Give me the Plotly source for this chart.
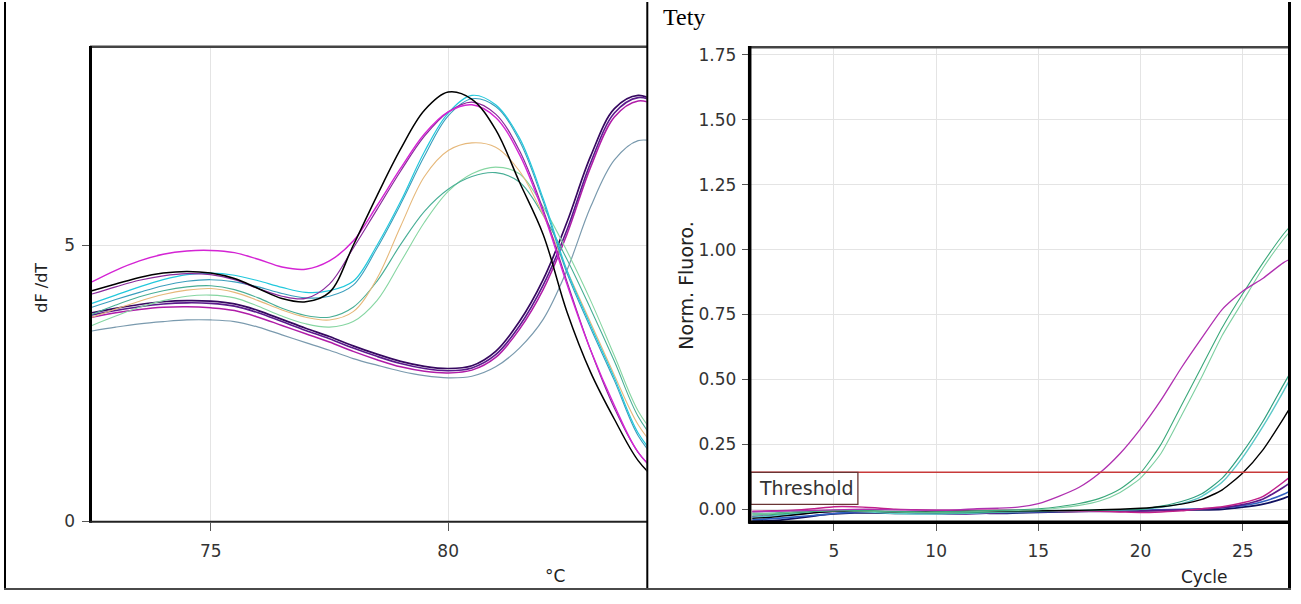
import plotly.graph_objects as go

# ---------------- data: melt curve (left) ----------------
temps = [72.5, 73, 73.5, 74, 74.5, 75, 75.5, 76, 76.5, 77, 77.5, 78, 78.5,
         79, 79.5, 80, 80.5, 81, 81.5, 82, 82.5, 83, 83.5, 84, 84.5]

melt_black = [4.18, 4.30, 4.42, 4.50, 4.53, 4.50, 4.40, 4.22, 4.04, 3.98, 4.15, 5.00, 5.90,
              6.75, 7.45, 7.78, 7.65, 7.10, 6.15, 5.20, 3.80, 2.70, 1.85, 1.10, 0.65]
melt_cyan = [3.95, 4.10, 4.25, 4.38, 4.47, 4.50, 4.46, 4.36, 4.24, 4.15, 4.18, 4.35, 5.00,
             5.80, 6.70, 7.40, 7.72, 7.55, 6.95, 5.85, 4.55, 3.55, 2.60, 1.60, 1.05]
melt_steel = [3.88, 4.02, 4.15, 4.27, 4.35, 4.38, 4.34, 4.25, 4.13, 4.05, 4.08, 4.28, 4.95,
              5.75, 6.62, 7.35, 7.66, 7.52, 6.90, 5.80, 4.50, 3.50, 2.55, 1.55, 1.00]
melt_magenta = [4.34, 4.55, 4.72, 4.84, 4.90, 4.91, 4.87, 4.75, 4.61, 4.57, 4.72, 5.08, 5.72,
                6.40, 7.02, 7.42, 7.55, 7.32, 6.65, 5.60, 4.30, 3.10, 2.10, 1.25, 0.80]
melt_purple_a = [4.12, 4.25, 4.37, 4.45, 4.49, 4.47, 4.38, 4.22, 4.08, 4.04, 4.30, 4.95, 5.65,
                 6.35, 6.98, 7.42, 7.60, 7.38, 6.72, 5.65, 4.35, 3.10, 2.05, 1.25, 0.80]
melt_orange = [3.70, 3.85, 3.99, 4.11, 4.19, 4.22, 4.15, 4.00, 3.83, 3.70, 3.65, 3.80, 4.40,
               5.35, 6.25, 6.72, 6.86, 6.78, 6.35, 5.55, 4.55, 3.60, 2.65, 1.75, 1.20]
melt_lightgreen = [3.55, 3.72, 3.88, 4.00, 4.08, 4.10, 4.05, 3.90, 3.72, 3.58, 3.52, 3.62, 4.00,
                   4.70, 5.42, 5.98, 6.30, 6.42, 6.30, 5.70, 4.90, 4.00, 3.00, 2.00, 1.40]
melt_tealgreen = [3.75, 3.92, 4.07, 4.18, 4.25, 4.27, 4.20, 4.05, 3.86, 3.73, 3.70, 3.88, 4.35,
                  5.02, 5.62, 6.02, 6.25, 6.32, 6.15, 5.55, 4.75, 3.85, 2.90, 1.90, 1.30]
melt_darkpurple = [3.78, 3.86, 3.93, 3.98, 4.00, 3.99, 3.94, 3.82, 3.66, 3.50, 3.35, 3.18, 3.03,
                   2.90, 2.81, 2.77, 2.82, 3.08, 3.62, 4.38, 5.42, 6.62, 7.48, 7.72, 7.55]
melt_purple_b = [3.74, 3.82, 3.89, 3.94, 3.96, 3.95, 3.90, 3.78, 3.62, 3.46, 3.31, 3.14, 2.99,
                 2.86, 2.77, 2.73, 2.78, 3.02, 3.54, 4.28, 5.28, 6.50, 7.40, 7.68, 7.55]
melt_magenta_b = [3.70, 3.78, 3.84, 3.88, 3.89, 3.87, 3.82, 3.70, 3.55, 3.40, 3.25, 3.08, 2.93,
                  2.80, 2.72, 2.69, 2.74, 2.97, 3.48, 4.20, 5.20, 6.42, 7.33, 7.62, 7.50]
melt_grayblue = [3.45, 3.52, 3.58, 3.62, 3.65, 3.65, 3.62, 3.52, 3.38, 3.24, 3.10, 2.95, 2.83,
                 2.72, 2.64, 2.60, 2.63, 2.80, 3.14, 3.66, 4.55, 5.70, 6.55, 6.90, 6.85]

melt_ticks_x = [75, 80]
melt_ticks_y = [0, 5]

# ---------------- data: amplification (right) ----------------
cycles = list(range(1, 29))
amp_magenta = [-0.010, -0.008, -0.006, -0.004, -0.002, 0.000, 0.000, -0.002, -0.003, -0.003, -0.002, 0.002, 0.004, 0.008,
               0.022, 0.050, 0.085, 0.140, 0.215, 0.310, 0.420, 0.545, 0.660, 0.770, 0.840, 0.890, 0.950, 0.990]
amp_green1 = [-0.022, -0.020, -0.014, -0.008, -0.004, -0.004, -0.006, -0.008, -0.010, -0.010, -0.008, -0.006, -0.004, -0.002,
              0.002, 0.010, 0.022, 0.042, 0.078, 0.140, 0.250, 0.400, 0.550, 0.700, 0.830, 0.950, 1.060, 1.150]
amp_green2 = [-0.018, -0.016, -0.012, -0.008, -0.006, -0.006, -0.008, -0.010, -0.012, -0.012, -0.010, -0.008, -0.006, -0.004,
              -0.002, 0.005, 0.015, 0.032, 0.065, 0.120, 0.215, 0.360, 0.510, 0.670, 0.800, 0.930, 1.040, 1.130]
amp_green3 = [-0.015, -0.015, -0.010, -0.006, -0.004, -0.006, -0.008, -0.010, -0.012, -0.014, -0.014, -0.012, -0.010, -0.008,
              -0.006, -0.004, -0.004, -0.003, -0.002, 0.000, 0.012, 0.030, 0.060, 0.120, 0.220, 0.340, 0.480, 0.620]
amp_cyan = [-0.030, -0.026, -0.018, -0.010, -0.006, -0.008, -0.012, -0.016, -0.018, -0.018, -0.016, -0.014, -0.012, -0.010,
            -0.008, -0.006, -0.005, -0.004, -0.002, 0.000, 0.008, 0.022, 0.050, 0.105, 0.200, 0.320, 0.455, 0.600]
amp_black = [-0.035, -0.030, -0.022, -0.014, -0.008, -0.006, -0.008, -0.010, -0.010, -0.010, -0.008, -0.008, -0.008, -0.006,
             -0.006, -0.005, -0.004, -0.002, 0.000, 0.004, 0.010, 0.020, 0.038, 0.075, 0.140, 0.230, 0.350, 0.480]
amp_magenta2 = [-0.008, -0.006, -0.004, 0.002, 0.010, 0.010, 0.006, 0.000, -0.002, -0.004, -0.004, -0.004, -0.004, -0.004,
                -0.006, -0.008, -0.008, -0.008, -0.010, -0.012, -0.010, -0.006, 0.002, 0.010, 0.025, 0.050, 0.105, 0.170]
amp_purple = [-0.028, -0.025, -0.020, -0.012, -0.008, -0.008, -0.010, -0.012, -0.014, -0.016, -0.018, -0.016, -0.014, -0.010,
              -0.008, -0.008, -0.008, -0.008, -0.008, -0.006, -0.004, -0.002, 0.000, 0.006, 0.018, 0.040, 0.085, 0.140]
amp_navy = [-0.046, -0.044, -0.036, -0.026, -0.018, -0.014, -0.014, -0.016, -0.016, -0.016, -0.014, -0.014, -0.016, -0.014,
            -0.012, -0.010, -0.008, -0.006, -0.006, -0.006, -0.004, -0.002, -0.002, 0.000, 0.008, 0.020, 0.042, 0.075]
amp_blue = [-0.040, -0.036, -0.030, -0.024, -0.016, -0.012, -0.010, -0.010, -0.012, -0.014, -0.016, -0.016, -0.014, -0.012,
            -0.010, -0.008, -0.006, -0.006, -0.004, -0.004, -0.002, 0.000, 0.002, 0.006, 0.014, 0.030, 0.058, 0.100]

threshold = 0.1425
amp_ticks_x = [5, 10, 15, 20, 25]
amp_ticks_y = [0.00, 0.25, 0.50, 0.75, 1.00, 1.25, 1.50, 1.75]

# ---------------- figure ----------------
W, H = 1301, 604


def px(x):
    return x / W


def py(y):
    return 1 - y / H


fig = go.Figure()

melt_series = [
    (melt_grayblue, '#7a9aae', 1.2),
    (melt_magenta_b, '#b01ca8', 1.5),
    (melt_purple_b, '#5a1a8c', 1.6),
    (melt_darkpurple, '#360860', 1.7),
    (melt_lightgreen, '#86d6a2', 1.1),
    (melt_tealgreen, '#48ae96', 1.1),
    (melt_orange, '#e6b87a', 1.1),
    (melt_steel, '#3a9ebc', 1.1),
    (melt_cyan, '#22c8dc', 1.2),
    (melt_purple_a, '#8a2a9c', 1.2),
    (melt_magenta, '#d424d4', 1.4),
    (melt_black, '#000000', 1.5),
]
for vals, col, w in melt_series:
    fig.add_trace(go.Scatter(x=temps, y=vals, mode='lines', xaxis='x', yaxis='y',
                             line=dict(color=col, width=w, shape='spline', smoothing=1.0),
                             showlegend=False, hoverinfo='skip'))

amp_series = [
    (amp_navy, '#101060', 1.8),
    (amp_blue, '#3060c0', 1.6),
    (amp_purple, '#5a1a8a', 1.6),
    (amp_magenta2, '#c0208a', 1.5),
    (amp_cyan, '#5cc8c8', 1.4),
    (amp_green3, '#2f9f7f', 1.2),
    (amp_black, '#000000', 1.4),
    (amp_green2, '#7ccfa0', 1.1),
    (amp_green1, '#3aa87a', 1.1),
    (amp_magenta, '#b030b0', 1.3),
]
for vals, col, w in amp_series:
    fig.add_trace(go.Scatter(x=cycles, y=vals, mode='lines', xaxis='x2', yaxis='y2',
                             line=dict(color=col, width=w, shape='spline', smoothing=0.6),
                             showlegend=False, hoverinfo='skip'))

tickfont = dict(family='DejaVu Sans', size=17, color='#333333')
grid = '#e4e4e4'

L_x0, L_x1, T_y, B_y = 91.5, 646.7, 45.7, 529.5
R_x0, R_x1 = 750.7, 1288.0

fig.update_layout(
    width=W, height=H, margin=dict(l=0, r=0, t=0, b=0),
    paper_bgcolor='white', plot_bgcolor='white',
    xaxis=dict(domain=[px(L_x0), px(L_x1)], range=[72.49, 84.18], anchor='y',
               tickvals=melt_ticks_x, ticktext=[str(v) for v in melt_ticks_x],
               ticks='outside', ticklen=8, tickcolor='#555', tickwidth=1,
               showgrid=True, gridcolor=grid, gridwidth=1, zeroline=False,
               showline=False, tickfont=tickfont, ticklabelstandoff=6),
    yaxis=dict(domain=[py(B_y), py(T_y)], range=[-0.01, 8.6], anchor='x',
               tickvals=melt_ticks_y, ticktext=[str(v) for v in melt_ticks_y],
               ticks='outside', ticklen=9, tickcolor='#555', tickwidth=1,
               showgrid=True, gridcolor=grid, gridwidth=1, zeroline=False,
               showline=False, tickfont=tickfont, ticklabelstandoff=3),
    xaxis2=dict(domain=[px(R_x0), px(R_x1)], range=[0.924, 27.217], anchor='y2',
                tickvals=amp_ticks_x, ticktext=[str(v) for v in amp_ticks_x],
                ticks='outside', ticklen=8, tickcolor='#555', tickwidth=1,
                showgrid=True, gridcolor=grid, gridwidth=1, zeroline=False,
                showline=False, tickfont=tickfont, ticklabelstandoff=6),
    yaxis2=dict(domain=[py(B_y), py(T_y)], range=[-0.0484, 1.7807], anchor='x2',
                tickvals=amp_ticks_y, ticktext=['%.2f' % v for v in amp_ticks_y],
                ticks='outside', ticklen=8, tickcolor='#555', tickwidth=1,
                showgrid=True, gridcolor=grid, gridwidth=1, zeroline=False,
                showline=False, tickfont=tickfont, ticklabelstandoff=2),
)


def pline(x0, y0, x1, y1, color, width):
    fig.add_shape(type='line', xref='paper', yref='paper',
                  x0=px(x0), y0=py(y0), x1=px(x1), y1=py(y1),
                  line=dict(color=color, width=width), layer='above')


# threshold line and label box
fig.add_shape(type='line', xref='x2 domain', yref='y2', x0=0, x1=1, y0=threshold, y1=threshold,
              line=dict(color='#c83a3a', width=1.5), layer='above')
fig.add_shape(type='rect', xref='x2', yref='y2', x0=0.924, x1=6.17, y0=0.019, y1=threshold,
              line=dict(color='#6a3434', width=1.3), fillcolor='rgba(0,0,0,0)', layer='above')

# plot frames
pline(L_x0 - 1.5, T_y, 647, T_y, '#444444', 2.5)
pline(L_x0 - 1, T_y - 1, L_x0 - 1, B_y + 1, '#000000', 3)
pline(L_x0 - 2, B_y, 647, B_y, '#222222', 2)
pline(R_x0 - 2, T_y + 0.3, R_x1, T_y + 0.3, '#444444', 2.5)
pline(R_x0 - 1, T_y - 1, R_x0 - 1, B_y + 2, '#000000', 3.5)
pline(R_x0 - 2, B_y + 0.5, R_x1, B_y + 0.5, '#000000', 3.5)

# table borders
pline(5, 0, 5, 598, '#000000', 2)
pline(647.3, 0, 647.3, 598, '#000000', 2)
pline(1289.5, 0, 1289.5, 598, '#000000', 3)
pline(4, 598, 1291, 598, '#4a4a4a', 2)

ann_font = dict(family='DejaVu Sans', color='#222222')
annotations = [
    dict(text='Tety', x=px(661), y=py(15), xanchor='left', yanchor='middle',
         font=dict(family='Liberation Serif', size=24, color='#000000')),
    dict(text='dF /dT', x=px(42), y=py(291), textangle=-90, xanchor='center', yanchor='middle',
         font=dict(size=16, **ann_font)),
    dict(text='°C', x=px(555), y=py(585), xanchor='center', yanchor='middle',
         font=dict(size=17, **ann_font)),
    dict(text='Norm. Fluoro.', x=px(686), y=py(288), textangle=-90, xanchor='center', yanchor='middle',
         font=dict(size=19, **ann_font)),
    dict(text='Cycle', x=px(1204), y=py(586), xanchor='center', yanchor='middle',
         font=dict(size=17, **ann_font)),
    dict(text='Threshold', x=px(757), y=py(495), xanchor='left', yanchor='middle',
         font=dict(size=19, family='DejaVu Sans', color='#333333')),
]
for a in annotations:
    a.update(xref='paper', yref='paper', showarrow=False)
fig.update_layout(annotations=annotations)

fig.write_html('out.html')
